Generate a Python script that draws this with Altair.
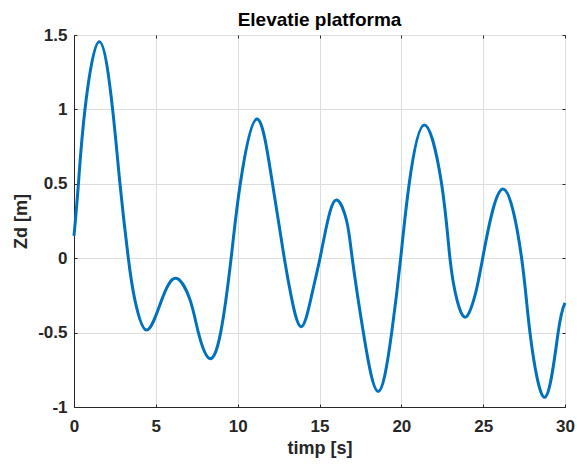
import altair as alt
import pandas as pd

# time [s] and platform elevation Zd [m]
timp = [0.0, 0.27, 0.67, 1.55, 2.36, 2.81, 3.32, 3.72, 4.44,
        5.36, 6.23, 7.09, 7.6, 8.27, 8.96, 9.6, 10.16,
        11.16, 12.1, 12.85, 13.26, 13.87, 14.52, 15.03, 15.5, 16.05,
        16.66, 17.0, 17.68, 18.59, 19.41, 19.96, 20.48,
        21.40, 22.46, 22.97, 23.4, 23.95, 24.5, 24.97, 26.19,
        27.35, 27.86, 28.77, 29.58, 30.0]
zd = [0.15, 0.5, 1.0, 1.455, 1.0, 0.5, 0.0, -0.28, -0.483,
      -0.28, -0.135, -0.28, -0.5, -0.673, -0.5, 0.0, 0.5,
      0.935, 0.52, 0.0, -0.25, -0.46, -0.25, 0.0, 0.25, 0.391,
      0.25, 0.0, -0.5, -0.895, -0.5, 0.0, 0.5,
      0.895, 0.5, 0.0, -0.28, -0.395, -0.25, 0.0, 0.465,
      0.0, -0.5, -0.935, -0.5, -0.30]

x_ticks = [0, 5, 10, 15, 20, 25, 30]
y_ticks = [-1, -0.5, 0, 0.5, 1, 1.5]

df = pd.DataFrame({"t": timp, "z": zd})

FONT = "Liberation Sans"
DARK = "#262626"
GRID = "#dedede"
TICK = 3

xscale = alt.Scale(domain=[0, 30], nice=False, zero=False)
yscale = alt.Scale(domain=[-1, 1.5], nice=False, zero=False)

main = alt.Chart(df).mark_line(color="#0072BD", strokeWidth=3, interpolate="natural").encode(
    x=alt.X("t:Q", scale=xscale, axis=alt.Axis(
        orient="bottom", values=x_ticks, labelExpr="toString(datum.value)",
        title="timp [s]", titleFontSize=18, titleFontWeight="bold", titleColor=DARK,
        titleFont=FONT, titlePadding=5,
        labelFont=FONT, labelFontSize=17, labelFontWeight="bold", labelColor=DARK,
        labelPadding=11, ticks=False, domain=True, domainColor=DARK, domainWidth=1,
        grid=True, gridColor=GRID, labelFlush=False)),
    y=alt.Y("z:Q", scale=yscale, axis=alt.Axis(
        orient="left", values=y_ticks, labelExpr="toString(datum.value)",
        title="Zd [m]", titleFontSize=18, titleFontWeight="bold", titleColor=DARK,
        titleFont=FONT, titlePadding=7,
        labelFont=FONT, labelFontSize=17, labelFontWeight="bold", labelColor=DARK,
        labelPadding=7, ticks=False, domain=True, domainColor=DARK, domainWidth=1,
        grid=True, gridColor=GRID, labelFlush=False)),
)

def tick_layer(xo, yo):
    return alt.Chart(df).mark_line(strokeOpacity=0).encode(
        x=alt.X("t:Q", scale=xscale, axis=alt.Axis(
            orient=xo, values=x_ticks, labels=False, title=None, tickSize=TICK,
            tickColor=DARK, offset=-TICK, domain=False, grid=False)),
        y=alt.Y("z:Q", scale=yscale, axis=alt.Axis(
            orient=yo, values=y_ticks, labels=False, title=None, tickSize=TICK,
            tickColor=DARK, offset=-TICK, domain=False, grid=False)),
    )

chart = alt.layer(main, tick_layer("bottom", "left"), tick_layer("top", "right")).resolve_axis(
    x="independent", y="independent").properties(
    width=491, height=372,
    title=alt.TitleParams("Elevatie platforma", font=FONT, fontSize=19, fontWeight="bold",
                          color="#000000", anchor="middle", offset=8, dy=12),
    autosize=alt.AutoSizeParams(type="none"),
    padding={"left": 74, "top": 35, "right": 12, "bottom": 57},
    background="white",
).configure_view(stroke="#8c8c8c", strokeWidth=1)

chart.save("out.html", embed_options={"renderer": "svg", "actions": False})
